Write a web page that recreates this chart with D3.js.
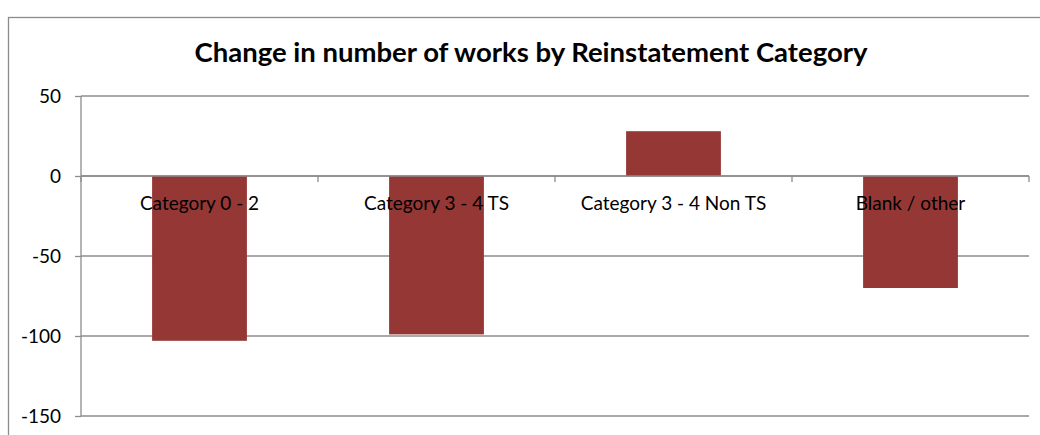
<!DOCTYPE html>
<html>
<head>
<meta charset="utf-8">
<script src="https://cdn.jsdelivr.net/npm/d3@7"></script>
<style>
  body { margin: 0; background: #fff; }
  text { font-family: Lato, "Open Sans", sans-serif; }
</style>
</head>
<body>
<div id="main-container"></div>
<script>
const categories = ["Category 0 - 2", "Category 3 - 4 TS", "Category 3 - 4 Non TS", "Blank / other"];
const changes = [-103, -99, 28, -70];
const yTicks = [50, 0, -50, -100, -150];
const chartTitle = "Change in number of works by Reinstatement Category";

const width = 1040, height = 435;
const plot = { left: 81, right: 1029, top: 96, bottom: 416 };
const barColor = "#953735";
const gridColor = "#8c8c8c";

const svg = d3.select("#main-container")
    .append("svg")
    .attr("width", width)
    .attr("height", height);

// outer chart border
svg.append("rect")
    .attr("x", 8.5).attr("y", 17.5)
    .attr("width", 1040).attr("height", 500)
    .attr("fill", "none")
    .attr("stroke", gridColor)
    .attr("stroke-width", 1.3);

svg.append("text")
    .attr("x", 531).attr("y", 62)
    .attr("text-anchor", "middle")
    .attr("font-size", 27.5)
    .attr("font-weight", "bold")
    .text(chartTitle);

const x = d3.scaleBand()
    .domain(categories)
    .range([plot.left, plot.right])
    .paddingInner(0.6)
    .paddingOuter(0.3);

const y = d3.scaleLinear()
    .domain([-150, 50])
    .range([plot.bottom, plot.top]);

// gridlines
svg.append("g")
    .selectAll("line")
    .data(yTicks)
    .join("line")
    .attr("x1", plot.left).attr("x2", plot.right)
    .attr("y1", d => y(d)).attr("y2", d => y(d))
    .attr("stroke", gridColor)
    .attr("stroke-width", 1.3);

// y axis
const yAxis = svg.append("g")
    .attr("transform", `translate(${plot.left},0)`)
    .call(d3.axisLeft(y).tickValues(yTicks).tickSize(6).tickPadding(14).tickFormat(d => String(d)));
yAxis.selectAll("line, path").attr("stroke", gridColor).attr("stroke-width", 1.3);
yAxis.select(".domain").attr("d", `M0,${plot.top}V${plot.bottom}`);
yAxis.selectAll("text").attr("font-size", 19).attr("fill", "#000")
    .style("font-family", "Lato, 'Open Sans', sans-serif");

// bars
svg.append("g")
    .selectAll("rect")
    .data(categories)
    .join("rect")
    .attr("x", d => x(d))
    .attr("width", x.bandwidth())
    .attr("y", (d, i) => y(Math.max(0, changes[i])))
    .attr("height", (d, i) => Math.abs(y(changes[i]) - y(0)))
    .attr("fill", barColor);

// x axis at zero, tick marks between categories
const bounds = d3.range(categories.length + 1).map(i => plot.left + i * (plot.right - plot.left) / categories.length);
svg.append("line")
    .attr("x1", plot.left).attr("x2", plot.right)
    .attr("y1", y(0)).attr("y2", y(0))
    .attr("stroke", gridColor).attr("stroke-width", 1.3);
svg.append("g")
    .selectAll("line")
    .data(bounds)
    .join("line")
    .attr("x1", d => d).attr("x2", d => d)
    .attr("y1", y(0)).attr("y2", y(0) + 6)
    .attr("stroke", gridColor).attr("stroke-width", 1.3);

// category labels
svg.append("g")
    .selectAll("text")
    .data(categories)
    .join("text")
    .attr("x", d => x(d) + x.bandwidth() / 2)
    .attr("y", y(0) + 34)
    .attr("text-anchor", "middle")
    .attr("font-size", 19)
    .text(d => d);
</script>
</body>
</html>
